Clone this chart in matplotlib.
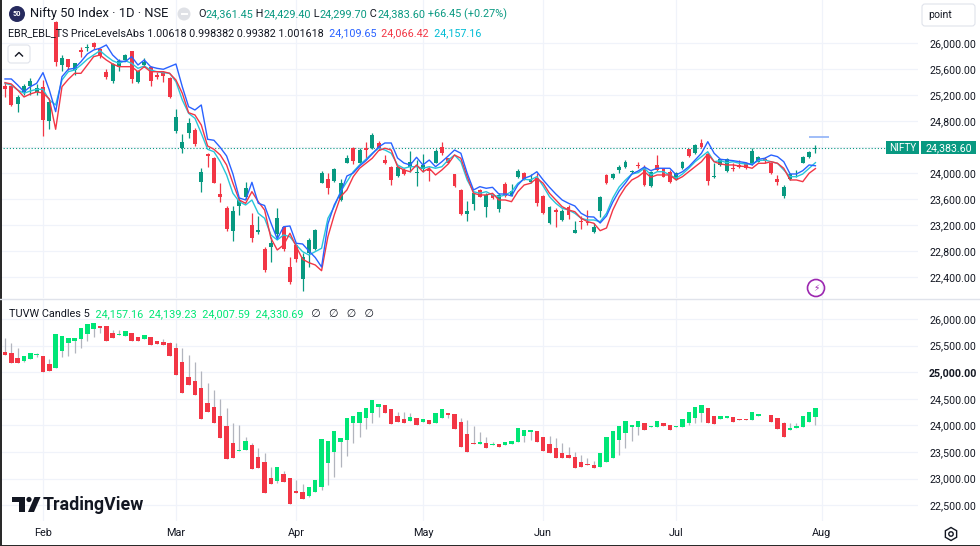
import numpy as np
import matplotlib
matplotlib.use('Agg')
import matplotlib.pyplot as plt
from matplotlib.patches import Circle, FancyBboxPatch, Polygon, Rectangle, RegularPolygon
from matplotlib.lines import Line2D
from matplotlib import transforms

plt.rcParams['font.family'] = ['Roboto', 'DejaVu Sans']

# ---- main series (daily OHLC, one entry per trading day) ----
op = [25337, 25342, 25055, 25240, 25342, 25240, 25326, 24798, 26322, 25660,
      25748, 25583, 25891, 25917, 26003, 25901, 25557, 25418, 25634, 25737,
      25875, 25394, 25660, 25634, 25511, 25557, 25465, 24649, 24388, 24609,
      24660, 23865, 24286, 24225, 23671, 23465, 23106, 23491, 23625, 23198,
      23095, 22829, 22865, 23055, 23172, 22557, 22891, 22368, 22772, 22825,
      23849, 23902, 23875, 23583, 24157, 24388, 24148, 24379, 24379, 24465,
      24198, 24095, 23952, 24045, 24086, 24000, 24060, 24055, 24157, 24394,
      24225, 23978, 23737, 23363, 23517, 23737, 23480, 23660, 23445, 23829,
      23660, 23932, 24003, 23865, 23917, 23645, 23225, 23429, 23275, 23471,
      23080, 23260, 23250, 23095, 23414, 23968, 23917, 24045, 24095, 24018,
      24122, 24071, 23798, 24122, 24071, 24018, 23902, 24071, 24363, 24302,
      24455, 24291, 23932, 24122, 24034, 24071, 24122, 24148, 24137, 24172,
      24209, 24157, 23902, 23645, 23906, 23965, 24157, 24240, 24361.45]
hi = [25383, 25350, 25198, 25368, 25455, 25368, 25429, 25111, 26330, 25814,
      25755, 25695, 25932, 25983, 26010, 25917, 25594, 25686, 25748, 25825,
      25880, 25583, 25763, 25645, 25557, 25560, 25470, 24983, 24598, 24840,
      24686, 24071, 24302, 24250, 23840, 23495, 23491, 23609, 23865, 23378,
      23341, 22855, 23009, 23455, 23180, 22711, 22906, 22763, 22994, 23132,
      24030, 23994, 24071, 23902, 24276, 24395, 24378, 24480, 24609, 24491,
      24275, 24100, 24106, 24075, 24337, 24198, 24291, 24095, 24368, 24480,
      24230, 23983, 23752, 23572, 23711, 23752, 23686, 23675, 23686, 23865,
      23829, 24055, 24018, 23983, 23994, 23660, 23498, 23455, 23445, 23506,
      23260, 23337, 23429, 23225, 23645, 23983, 23995, 24122, 24198, 24045,
      24172, 24122, 24030, 24275, 24080, 24045, 24015, 24185, 24375, 24440,
      24522, 24300, 24148, 24220, 24225, 24148, 24198, 24160, 24379, 24255,
      24250, 24170, 23968, 23814, 23995, 24045, 24265, 24337, 24429.40]
lo = [25168, 25034, 24942, 25198, 25198, 25198, 24572, 24675, 25645, 25572,
      25583, 25506, 25788, 25880, 25901, 25763, 25440, 25378, 25572, 25722,
      25388, 25378, 25634, 25337, 25440, 25403, 25148, 24609, 24302, 24532,
      24414, 23701, 24086, 23840, 23557, 23111, 22957, 23352, 23594, 22932,
      23060, 22480, 22634, 23018, 22803, 22286, 22634, 22188, 22557, 22814,
      23840, 23675, 23865, 23572, 24148, 24137, 24137, 24225, 24363, 24352,
      24137, 23814, 23942, 23968, 24018, 23798, 24018, 23880, 24148, 24275,
      24152, 23783, 23357, 23265, 23429, 23622, 23326, 23598, 23403, 23634,
      23645, 23917, 23891, 23840, 23491, 23368, 23214, 23163, 23260, 23286,
      23070, 23132, 23198, 23080, 23326, 23829, 23905, 23994, 24071, 23994,
      24071, 23798, 23790, 24034, 23930, 23840, 23890, 24060, 24250, 24290,
      24379, 23814, 23925, 24110, 24020, 24034, 24071, 24060, 24122, 24160,
      24148, 23980, 23814, 23609, 23895, 23942, 24145, 24222, 24299.70]
cl = [25286, 25045, 25172, 25337, 25418, 25311, 24814, 25095, 25711, 25772,
      25634, 25686, 25855, 25942, 25932, 25798, 25471, 25675, 25722, 25814,
      25440, 25568, 25711, 25418, 25480, 25491, 25163, 24855, 24480, 24763,
      24440, 24018, 24265, 23849, 23634, 23132, 23414, 23583, 23772, 22994,
      23121, 22506, 22917, 23301, 22825, 22317, 22671, 22711, 22968, 23121,
      23994, 23763, 24060, 23840, 24225, 24188, 24352, 24352, 24583, 24368,
      24157, 23891, 24095, 23983, 24172, 24010, 24122, 24029, 24342, 24302,
      24157, 23798, 23368, 23414, 23686, 23634, 23660, 23609, 23660, 23645,
      23726, 24034, 23902, 23906, 23541, 23378, 23480, 23403, 23418, 23352,
      23121, 23245, 23225, 23163, 23625, 23840, 23983, 24095, 24172, 24025,
      24106, 23814, 24018, 24045, 23942, 23865, 24003, 24172, 24260, 24429,
      24394, 23880, 23952, 24209, 24209, 24055, 24095, 24071, 24342, 24240,
      24183, 23994, 23865, 23779, 23983, 23970, 24250, 24317.15, 24383.60]

# ---- EBR_EBL_TS price levels ----
blue = [25445, 25445, 25352, 25249, 25326, 25378, 25542, 25275, 24942, 25480,
        25594, 25609, 25711, 25829, 25891, 25917, 25968, 25814, 25722, 25711,
        25788, 25660, 25737, 25634, 25609, 25594, 25634, 25675, 25326, 25018,
        24968, 25045, 24517, 24502, 24391, 24260, 23983, 23614, 23583, 23855,
        23532, 23498, 23229, 22983, 23172, 23183, 22917, 22906, 22798, 22698,
        22552, 23214, 23506, 23691, 23952, 23998, 24106, 24188, 24291, 24398,
        24460, 24460, 24229, 24152, 24122, 24240, 24122, 24198, 24095, 24172,
        24260, 24352, 24302, 23994, 23737, 23788, 23763, 23778, 23675, 23675,
        23645, 23814, 23917, 23952, 24018, 23891, 23778, 23675, 23583, 23532,
        23491, 23378, 23326, 23321, 23229, 23337, 23552, 23722, 23845, 23983,
        24029, 24091, 24034, 24071, 24071, 24071, 23968, 24018, 24095, 24198,
        24302, 24480, 24302, 24209, 24198, 24188, 24172, 24157, 24122, 24209,
        24225, 24275, 24250, 24172, 23983, 23983, 24034, 24122, 24109.65]
red = [25388, 25368, 25275, 25168, 25214, 25245, 25229, 25137, 24671, 25326,
       25440, 25532, 25532, 25660, 25788, 25814, 25737, 25675, 25634, 25634,
       25634, 25557, 25634, 25557, 25557, 25557, 25532, 25429, 25225, 24926,
       24891, 24737, 24414, 24363, 24275, 24122, 23840, 23583, 23532, 23711,
       23557, 23429, 22994, 22814, 22891, 23071, 22865, 22671, 22619, 22583,
       22495, 23018, 23352, 23634, 23737, 23942, 24071, 24148, 24225, 24342,
       24379, 24352, 24095, 24045, 24018, 24122, 24018, 24071, 23968, 24045,
       24137, 24275, 24225, 23942, 23686, 23660, 23660, 23686, 23583, 23583,
       23557, 23711, 23814, 23840, 23917, 23840, 23686, 23583, 23480, 23429,
       23403, 23301, 23250, 23225, 23111, 23152, 23429, 23629, 23783, 23891,
       23942, 24018, 23932, 23968, 23968, 23968, 23891, 23942, 24018, 24095,
       24172, 24291, 24172, 24137, 24122, 24122, 24106, 24095, 24071, 24148,
       24148, 24172, 24148, 24071, 23891, 23891, 23865, 23994, 24066.42]
teal = [25378, 25352, 25275, 25225, 25260, 25286, 25286, 25122, 25045, 25429,
        25557, 25583, 25660, 25748, 25814, 25880, 25798, 25726, 25686, 25726,
        25686, 25609, 25645, 25583, 25557, 25542, 25532, 25403, 25122, 24917,
        24840, 24609, 24363, 24326, 24172, 23968, 23686, 23557, 23506, 23583,
        23378, 23301, 23045, 22968, 23045, 23018, 22891, 22788, 22737, 22788,
        22840, 23301, 23480, 23711, 23865, 24018, 24122, 24209, 24302, 24379,
        24352, 24302, 24122, 24071, 24095, 24095, 24071, 24095, 24071, 24095,
        24198, 24275, 24172, 23891, 23711, 23686, 23711, 23660, 23634, 23660,
        23711, 23840, 23902, 23891, 23942, 23798, 23634, 23532, 23455, 23429,
        23378, 23301, 23275, 23275, 23250, 23378, 23614, 23783, 23891, 23983,
        24003, 24071, 23968, 24018, 24018, 23968, 23917, 23983, 24071, 24172,
        24250, 24326, 24172, 24188, 24157, 24172, 24148, 24137, 24137, 24188,
        24198, 24172, 24148, 24045, 23942, 23942, 23983, 24071, 24157.16]
proj_level = 24550
proj_span = (127.0, 130.2)

# ---- TUVW Candles 5 (lower pane) ----
bo = [25385, 25366, 25261, 25216, 25248, 25317, 25310, 25154, 25084, 25398,
      25543, 25586, 25618, 25718, 25812, 25874, 25868, 25731, 25699, 25686,
      25731, 25667, 25624, 25667, 25592, 25573, 25554, 25449, 25197, 24904,
      24840, 24697, 24415, 24340, 24182, 23988, 23674, 23524, 23537, 23631,
      23411, 23306, 23016, 22954, 23080, 23005, 22766, 22742, 22672, 22753,
      22847, 23287, 23505, 23693, 23725, 24039, 24039, 24133, 24227, 24351,
      24383, 24308, 24176, 24120, 24082, 24133, 24063, 24095, 24050, 24133,
      24227, 24214, 24069, 23832, 23674, 23650, 23674, 23625, 23644, 23625,
      23650, 23682, 23806, 23870, 23894, 23787, 23650, 23569, 23486, 23443,
      23411, 23317, 23274, 23255, 23212, 23317, 23381, 23725, 23862, 23964,
      23975, 24039, 23975, 23975, 24039, 24007, 23964, 23975, 24039, 24133,
      24238, 24321, 24182, 24114, 24144, 24152, 24126, 24114, 24101, 24176,
      24201, 24189, 24133, 24039, 23913, 23945, 23964, 24069, 24157.16]
bh = [25637, 25554, 25449, 25304, 25355, 25360, 25310, 25242, 25718, 25680,
      25648, 25648, 25825, 25906, 25930, 25874, 25868, 25793, 25793, 25774,
      25731, 25667, 25699, 25667, 25592, 25618, 25573, 25543, 25449, 25323,
      25197, 25028, 24791, 24665, 24490, 24321, 24050, 24007, 23787, 23670,
      23569, 23475, 23223, 23212, 23148, 23005, 22973, 22898, 22836, 22973,
      23744, 23706, 23900, 23768, 24133, 24176, 24246, 24321, 24477, 24402,
      24383, 24308, 24257, 24257, 24227, 24133, 24120, 24095, 24227, 24308,
      24227, 24214, 24133, 24101, 23994, 23881, 23776, 23693, 23644, 23687,
      23712, 23945, 23913, 23913, 23894, 23787, 23800, 23757, 23674, 23599,
      23505, 23443, 23381, 23336, 23486, 23776, 23894, 23994, 24082, 24001,
      24082, 24039, 23994, 24082, 24039, 24007, 23994, 24120, 24246, 24351,
      24383, 24321, 24182, 24176, 24176, 24152, 24126, 24114, 24246, 24214,
      24201, 24189, 24133, 24069, 24039, 24050, 24182, 24246, 24139.23]
bl = [25323, 25167, 25167, 25200, 25240, 25280, 25009, 25022, 25084, 25285,
      25304, 25366, 25449, 25592, 25667, 25731, 25586, 25637, 25699, 25686,
      25592, 25586, 25624, 25511, 25530, 25511, 25304, 24947, 24614, 24759,
      24571, 24114, 24257, 24039, 23768, 23368, 23381, 23524, 23537, 23174,
      23193, 22723, 22892, 22917, 22930, 22522, 22723, 22610, 22660, 22753,
      22785, 22879, 23035, 23223, 23430, 23663, 23787, 23926, 24039, 24163,
      24227, 24020, 24069, 24050, 24082, 24007, 24063, 24020, 24050, 24133,
      24133, 23926, 23588, 23494, 23650, 23650, 23580, 23625, 23599, 23625,
      23650, 23682, 23693, 23725, 23687, 23518, 23475, 23392, 23392, 23381,
      23193, 23223, 23255, 23193, 23212, 23317, 23381, 23443, 23569, 23712,
      23819, 23913, 23975, 23975, 23988, 23913, 23964, 23975, 24007, 24039,
      24069, 24039, 24026, 24114, 24144, 24069, 24095, 24095, 24101, 24176,
      24189, 24058, 23926, 23787, 23913, 23945, 23964, 24069, 24007.59]
bc = [25323, 25167, 25167, 25304, 25355, 25336, 25009, 25022, 25718, 25680,
      25648, 25648, 25825, 25906, 25930, 25836, 25586, 25637, 25718, 25774,
      25592, 25586, 25699, 25511, 25530, 25511, 25304, 24947, 24614, 24759,
      24571, 24114, 24257, 24039, 23768, 23368, 23381, 23537, 23712, 23174,
      23193, 22723, 22892, 23212, 22930, 22522, 22723, 22610, 22836, 22973,
      23744, 23706, 23900, 23768, 24133, 24176, 24246, 24321, 24477, 24402,
      24227, 24020, 24069, 24050, 24163, 24007, 24120, 24020, 24227, 24308,
      24189, 23926, 23588, 23494, 23650, 23687, 23580, 23650, 23599, 23687,
      23712, 23945, 23913, 23913, 23687, 23518, 23475, 23392, 23392, 23381,
      23193, 23223, 23255, 23193, 23486, 23776, 23894, 23994, 24082, 24001,
      24082, 23913, 23994, 24082, 23988, 23913, 23994, 24120, 24246, 24351,
      24383, 24039, 24026, 24176, 24176, 24069, 24095, 24095, 24246, 24214,
      24189, 24058, 23926, 23787, 23956, 23988, 24182, 24246, 24330.69]

month_pos = [6, 27, 46, 66, 85, 106, 129]
month_lbl = ['Feb', 'Mar', 'Apr', 'May', 'Jun', 'Jul', 'Aug']
top_ticks = list(range(22400, 26001, 400))
bot_ticks = list(range(22500, 26001, 500))

INK = '#131722'
UP, DN = '#089981', '#f23645'
UP2, DN2, WICK2 = '#00e676', '#f23645', '#b2b5be'
GRID = '#f0f3fa'

W, H = 9.8, 5.46
fig = plt.figure(figsize=(W, H), dpi=100, facecolor='white')
pix = fig.dpi_scale_trans


def P(x, y):
    # screen pixel -> inches from lower-left
    return (x / 100, H - y / 100)


ax1 = fig.add_axes([0, 1 - 298 / 546, 918 / 980, 298 / 546])
ax2 = fig.add_axes([0, 1 - 521 / 546, 918 / 980, 222 / 546])
xlim = (-0.79, 144.2)


def draw_candles(ax, o, h, l, c, up, dn, wu, wd, width, min_body):
    o, h, l, c = (np.asarray(v, float) for v in (o, h, l, c))
    x = np.arange(len(o))
    rising = c >= o
    top = np.max([o, h, c], axis=0)
    bot = np.min([o, l, c], axis=0)
    ax.vlines(x, bot, top, colors=list(np.where(rising, wu, wd)), linewidth=0.9, zorder=2)
    body = np.abs(c - o)
    hgt = np.maximum(body, min_body)
    base = np.minimum(o, c) - (hgt - body) / 2
    ax.bar(x, hgt, width, bottom=base, color=list(np.where(rising, up, dn)),
           linewidth=0, zorder=3)


def fmt(v):
    return f'{v:,.2f}'


for ax in (ax1, ax2):
    ax.patch.set_visible(False)
    ax.set_xlim(*xlim)
    for s in ax.spines.values():
        s.set_visible(False)
    ax.set_axisbelow(True)
    ax.grid(True, color=GRID, lw=0.9)
    ax.yaxis.tick_right()
    ax.set_xticks(month_pos)
    ax.tick_params(axis='y', length=0, pad=8, labelsize=7.7, labelcolor=INK)
    ax.tick_params(axis='x', length=0)

# upper pane
ax1.set_ylim(22075, 26660)
draw_candles(ax1, op, hi, lo, cl, UP, DN, UP, DN, 0.62, 12)
x = np.arange(len(cl))
ax1.plot(x, teal, color='#26c6da', lw=1.0, zorder=4)
ax1.plot(x, red, color='#f23645', lw=1.0, zorder=4)
ax1.plot(x, blue, color='#2962ff', lw=1.0, zorder=5)
ax1.axhline(cl[-1], color=UP, lw=0.8, ls=(0, (1, 1.8)), zorder=1)
ax1.hlines(proj_level, *proj_span, color='#8fb1f7', lw=1.2, zorder=4)
# the scale label next to the last-price tag is hidden, as on the screen
ax1.set_yticks(top_ticks, labels=['' if abs(v - cl[-1]) < 150 else fmt(v) for v in top_ticks])
ax1.tick_params(axis='x', labelbottom=False)

# lower pane
ax2.set_ylim(22202, 26376)
draw_candles(ax2, bo, bh, bl, bc, UP2, DN2, WICK2, WICK2, 0.7, 14)
ax2.set_yticks(bot_ticks, labels=[fmt(v) for v in bot_ticks])
for t in ax2.get_yticklabels():
    if t.get_text() == '25,000.00':
        t.set_fontweight('bold')
ax2.set_xticks(month_pos, labels=month_lbl)
ax2.tick_params(axis='x', pad=5, labelsize=7.8, labelcolor=INK)

# pane separator and screenshot edges
fig.add_artist(Line2D([0, 1], [1 - 298.5 / 546] * 2, transform=fig.transFigure,
                      color='#e0e3eb', lw=1))
fig.add_artist(Rectangle((0, 0), 0.02, H, transform=pix, color='#2a2a2a', lw=0))
fig.add_artist(Rectangle((0, 0), W, 0.012, transform=pix, color='#2a2a2a', lw=0))

# last price tag on the scale
tr = transforms.blended_transform_factory(fig.transFigure, ax1.transData)
tag_h = 13 * (26660 - 22075) / 298
ax1.add_patch(Rectangle((886 / 980, cl[-1] - tag_h / 2), 33 / 980, tag_h, transform=tr,
                        color=UP, lw=0, clip_on=False, zorder=6))
ax1.add_patch(Rectangle((921 / 980, cl[-1] - tag_h / 2), 55 / 980, tag_h, transform=tr,
                        color=UP, lw=0, clip_on=False, zorder=6))
ax1.text(902.5 / 980, cl[-1], 'NIFTY', transform=tr, ha='center', va='center',
         color='white', fontsize=7.2, clip_on=False, zorder=7)
ax1.text(948.5 / 980, cl[-1], fmt(cl[-1]), transform=tr, ha='center', va='center',
         color='white', fontsize=7.7, clip_on=False, zorder=7)


def text_run(host, x0, y0, parts, size):
    t = fig.text(*P(x0, y0), parts[0][0], color=parts[0][1], fontsize=size,
                 ha='left', va='center', transform=pix)
    for s, c in parts[1:]:
        t = host.annotate(s, xy=(1, 0.5), xycoords=t, color=c, fontsize=size,
                          ha='left', va='center', annotation_clip=False, clip_on=False,
                          zorder=8)
    return t


# legend, upper pane
fig.add_artist(Circle(P(17, 14), 0.08, transform=pix, color='#262a5e', lw=0))
fig.text(*P(17, 14.5), '50', transform=pix, color='white', fontsize=5.2,
         fontweight='bold', ha='center', va='center')
text_run(ax1, 30, 14, [('Nifty 50 Index · 1D · NSE', INK)], 9.3)
fig.add_artist(Circle(P(184, 14), 0.065, transform=pix, color='#dfe1e6', lw=0))
fig.add_artist(Line2D([1.815, 1.865], [H - 0.14] * 2, transform=pix, color='white', lw=1.4))
chg = cl[-1] - cl[-2]
text_run(ax1, 198, 14, [('O', INK), (fmt(op[-1]), UP), (' H', INK), (fmt(hi[-1]), UP),
                        (' L', INK), (fmt(lo[-1]), UP), (' C', INK), (fmt(cl[-1]), UP),
                        (f' {chg:+.2f} ({chg / cl[-2] * 100:+.2f}%)', UP)], 7.85)
text_run(ax1, 8, 33, [('EBR_EBL_TS PriceLevelsAbs 1.00618 0.998382 0.99382 1.001618', INK),
                      ('  ' + fmt(blue[-1]), '#2962ff'), ('  ' + fmt(red[-1]), DN),
                      ('  ' + fmt(teal[-1]), '#00bcd4')], 7.75)

# collapse button
fig.add_artist(FancyBboxPatch(P(8, 63), 0.22, 0.18, boxstyle='round,pad=0,rounding_size=0.03',
                              transform=pix, fc='white', ec='#e0e3eb', lw=0.8))
fig.add_artist(Line2D([0.155, 0.19, 0.225], [H - 0.56, H - 0.525, H - 0.56], transform=pix,
                      color=INK, lw=1.0))

# legend, lower pane
text_run(ax2, 9, 314, [('TUVW Candles 5', INK),
                       ('  ' + '  '.join(fmt(v) for v in (bo[-1], bh[-1], bl[-1], bc[-1])), UP2),
                       ('   ∅   ∅   ∅   ∅', INK)], 7.8)

# "point" box
fig.add_artist(FancyBboxPatch(P(922, 26), 0.53, 0.22, boxstyle='round,pad=0,rounding_size=0.03',
                              transform=pix, fc='white', ec='#e0e3eb', lw=0.8))
fig.text(*P(928, 15), 'point', transform=pix, fontsize=7.6, color=INK, ha='left', va='center')

# replay icon
fig.add_artist(Circle(P(816, 288), 0.085, transform=pix, fill=False, ec='#9c27b0', lw=1.2))
fig.text(*P(816, 288), '⚡', transform=pix, fontsize=6.5, color='#9c27b0',
         ha='center', va='center', family='DejaVu Sans')

# settings icon
fig.add_artist(RegularPolygon(P(951, 534), 6, radius=0.065, transform=pix, fill=False,
                              ec=INK, lw=1.0))
fig.add_artist(Circle(P(951, 534), 0.022, transform=pix, fill=False, ec=INK, lw=1.0))

# TradingView watermark
logo = [P(12, 497), P(25, 497), P(25, 512), P(19, 512), P(19, 502), P(12, 502)]
fig.add_artist(Polygon(logo, closed=True, transform=pix, color=INK, lw=0))
fig.add_artist(Circle(P(29, 499.5), 0.026, transform=pix, color=INK, lw=0))
fig.add_artist(Polygon([P(28, 512), P(34.5, 497), P(40.5, 497), P(34, 512)], closed=True,
                       transform=pix, color=INK, lw=0))
fig.text(*P(43, 505), 'TradingView', transform=pix, fontsize=12.8, fontweight='bold',
         color=INK, ha='left', va='center')

fig.savefig('out.png', dpi=100, facecolor='white')
